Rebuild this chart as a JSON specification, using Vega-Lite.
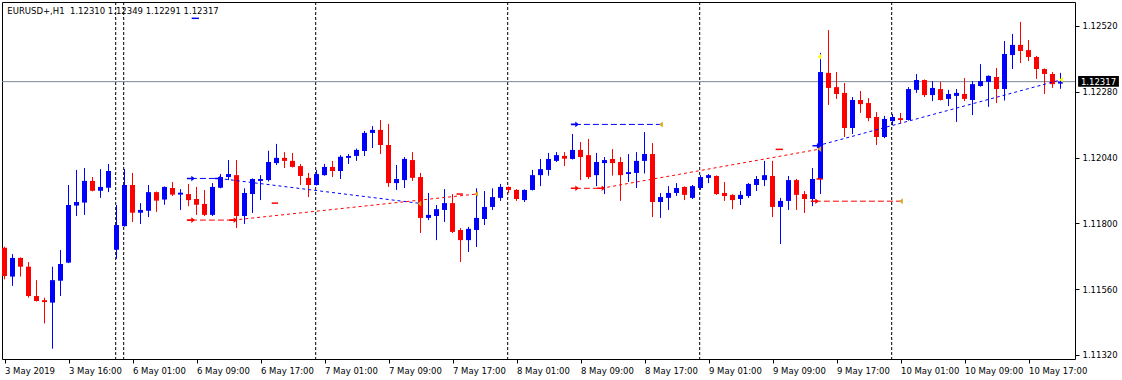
{
  "$schema": "https://vega.github.io/schema/vega-lite/v6.json",
  "width": 1073,
  "height": 357,
  "autosize": {"type": "none"},
  "padding": {"left": 2, "top": 2, "right": 47, "bottom": 21},
  "background": "white",
  "config": {
    "view": {"stroke": "#000000", "strokeWidth": 1},
    "axis": {"domain": false, "grid": false, "labelFont": "DejaVu Sans", "labelFontSize": 8.5, "labelColor": "#000000", "tickColor": "#000000", "tickSize": 4, "title": null}
  },
  "datasets": {
    "bars": [
      {"i":0,"o":1.11711,"h":1.11715,"l":1.11596,"c":1.11608},
      {"i":1,"o":1.11606,"h":1.11688,"l":1.11572,"c":1.11674},
      {"i":2,"o":1.11674,"h":1.11676,"l":1.11606,"c":1.11642},
      {"i":3,"o":1.11642,"h":1.11659,"l":1.11529,"c":1.11535},
      {"i":4,"o":1.11535,"h":1.11593,"l":1.11515,"c":1.11517},
      {"i":5,"o":1.11520,"h":1.11529,"l":1.11435,"c":1.11513},
      {"i":6,"o":1.11511,"h":1.11642,"l":1.11343,"c":1.11593},
      {"i":7,"o":1.11591,"h":1.11703,"l":1.11535,"c":1.11652},
      {"i":8,"o":1.11657,"h":1.11940,"l":1.11655,"c":1.11867},
      {"i":9,"o":1.11865,"h":1.11995,"l":1.11827,"c":1.11878},
      {"i":10,"o":1.11876,"h":1.12002,"l":1.11831,"c":1.11955},
      {"i":11,"o":1.11955,"h":1.11969,"l":1.11917,"c":1.11919},
      {"i":12,"o":1.11919,"h":1.11998,"l":1.11893,"c":1.11933},
      {"i":13,"o":1.11930,"h":1.12017,"l":1.11914,"c":1.11991},
      {"i":14,"o":1.11704,"h":1.11867,"l":1.11671,"c":1.11794},
      {"i":15,"o":1.11790,"h":1.11998,"l":1.11788,"c":1.11940},
      {"i":16,"o":1.11940,"h":1.11984,"l":1.11805,"c":1.11839},
      {"i":17,"o":1.11839,"h":1.11874,"l":1.11798,"c":1.11849},
      {"i":18,"o":1.11846,"h":1.11940,"l":1.11823,"c":1.11914},
      {"i":19,"o":1.11914,"h":1.11916,"l":1.11842,"c":1.11883},
      {"i":20,"o":1.11887,"h":1.11935,"l":1.11868,"c":1.11933},
      {"i":21,"o":1.11929,"h":1.11951,"l":1.11900,"c":1.11905},
      {"i":22,"o":1.11905,"h":1.11925,"l":1.11849,"c":1.11912},
      {"i":23,"o":1.11907,"h":1.11944,"l":1.11863,"c":1.11885},
      {"i":24,"o":1.11889,"h":1.11933,"l":1.11831,"c":1.11868},
      {"i":25,"o":1.11871,"h":1.11922,"l":1.11827,"c":1.11831},
      {"i":26,"o":1.11831,"h":1.11947,"l":1.11827,"c":1.11933},
      {"i":27,"o":1.11930,"h":1.11980,"l":1.11928,"c":1.11969},
      {"i":28,"o":1.11969,"h":1.12031,"l":1.11958,"c":1.11980},
      {"i":29,"o":1.11976,"h":1.12031,"l":1.11783,"c":1.11827},
      {"i":30,"o":1.11827,"h":1.11928,"l":1.11798,"c":1.11911},
      {"i":31,"o":1.11907,"h":1.11964,"l":1.11838,"c":1.11962},
      {"i":32,"o":1.11955,"h":1.11976,"l":1.11885,"c":1.11962},
      {"i":33,"o":1.11958,"h":1.12065,"l":1.11953,"c":1.12024},
      {"i":34,"o":1.12020,"h":1.12090,"l":1.12013,"c":1.12039},
      {"i":35,"o":1.12039,"h":1.12060,"l":1.12002,"c":1.12028},
      {"i":36,"o":1.12028,"h":1.12057,"l":1.12004,"c":1.12006},
      {"i":37,"o":1.12009,"h":1.12017,"l":1.11940,"c":1.11973},
      {"i":38,"o":1.11966,"h":1.11984,"l":1.11896,"c":1.11940},
      {"i":39,"o":1.11940,"h":1.11995,"l":1.11938,"c":1.11980},
      {"i":40,"o":1.11976,"h":1.12017,"l":1.11974,"c":1.12006},
      {"i":41,"o":1.12006,"h":1.12028,"l":1.11969,"c":1.11991},
      {"i":42,"o":1.11991,"h":1.12049,"l":1.11962,"c":1.12043},
      {"i":43,"o":1.12039,"h":1.12053,"l":1.12017,"c":1.12046},
      {"i":44,"o":1.12046,"h":1.12073,"l":1.12028,"c":1.12068},
      {"i":45,"o":1.12064,"h":1.12137,"l":1.12046,"c":1.12130},
      {"i":46,"o":1.12130,"h":1.12155,"l":1.12075,"c":1.12141},
      {"i":47,"o":1.12141,"h":1.12177,"l":1.12053,"c":1.12086},
      {"i":48,"o":1.12086,"h":1.12163,"l":1.11933,"c":1.11947},
      {"i":49,"o":1.11947,"h":1.12013,"l":1.11922,"c":1.11962},
      {"i":50,"o":1.11958,"h":1.12042,"l":1.11929,"c":1.12035},
      {"i":51,"o":1.12031,"h":1.12060,"l":1.11955,"c":1.11966},
      {"i":52,"o":1.11969,"h":1.11984,"l":1.11765,"c":1.11820},
      {"i":53,"o":1.11820,"h":1.11911,"l":1.11812,"c":1.11831},
      {"i":54,"o":1.11827,"h":1.11867,"l":1.11739,"c":1.11852},
      {"i":55,"o":1.11849,"h":1.11925,"l":1.11805,"c":1.11874},
      {"i":56,"o":1.11874,"h":1.11907,"l":1.11765,"c":1.11769},
      {"i":57,"o":1.11776,"h":1.11783,"l":1.11659,"c":1.11739},
      {"i":58,"o":1.11739,"h":1.11787,"l":1.11696,"c":1.11780},
      {"i":59,"o":1.11776,"h":1.11928,"l":1.11714,"c":1.11820},
      {"i":60,"o":1.11816,"h":1.11918,"l":1.11794,"c":1.11860},
      {"i":61,"o":1.11860,"h":1.11928,"l":1.11849,"c":1.11896},
      {"i":62,"o":1.11893,"h":1.11944,"l":1.11882,"c":1.11933},
      {"i":63,"o":1.11933,"h":1.11935,"l":1.11911,"c":1.11922},
      {"i":64,"o":1.11922,"h":1.11925,"l":1.11882,"c":1.11889},
      {"i":65,"o":1.11885,"h":1.11924,"l":1.11878,"c":1.11922},
      {"i":66,"o":1.11922,"h":1.11995,"l":1.11920,"c":1.11976},
      {"i":67,"o":1.11976,"h":1.12035,"l":1.11936,"c":1.11998},
      {"i":68,"o":1.11995,"h":1.12057,"l":1.11974,"c":1.12035},
      {"i":69,"o":1.12028,"h":1.12060,"l":1.12024,"c":1.12049},
      {"i":70,"o":1.12046,"h":1.12060,"l":1.12009,"c":1.12036},
      {"i":71,"o":1.12035,"h":1.12126,"l":1.12033,"c":1.12068},
      {"i":72,"o":1.12068,"h":1.12097,"l":1.11958,"c":1.12042},
      {"i":73,"o":1.12049,"h":1.12108,"l":1.11962,"c":1.11969},
      {"i":74,"o":1.11976,"h":1.12057,"l":1.11936,"c":1.12024},
      {"i":75,"o":1.12020,"h":1.12042,"l":1.11907,"c":1.12031},
      {"i":76,"o":1.12035,"h":1.12071,"l":1.11974,"c":1.12020},
      {"i":77,"o":1.12024,"h":1.12042,"l":1.11882,"c":1.11976},
      {"i":78,"o":1.11980,"h":1.12053,"l":1.11951,"c":1.11987},
      {"i":79,"o":1.11984,"h":1.12060,"l":1.11929,"c":1.12028},
      {"i":80,"o":1.12028,"h":1.12133,"l":1.11982,"c":1.12053},
      {"i":81,"o":1.12053,"h":1.12093,"l":1.11823,"c":1.11878},
      {"i":82,"o":1.11878,"h":1.11911,"l":1.11820,"c":1.11896},
      {"i":83,"o":1.11893,"h":1.11936,"l":1.11849,"c":1.11911},
      {"i":84,"o":1.11911,"h":1.11947,"l":1.11900,"c":1.11929},
      {"i":85,"o":1.11933,"h":1.11935,"l":1.11885,"c":1.11904},
      {"i":86,"o":1.11893,"h":1.11940,"l":1.11889,"c":1.11936},
      {"i":87,"o":1.11929,"h":1.11976,"l":1.11922,"c":1.11969},
      {"i":88,"o":1.11966,"h":1.11980,"l":1.11947,"c":1.11976},
      {"i":89,"o":1.11973,"h":1.11975,"l":1.11904,"c":1.11907},
      {"i":90,"o":1.11911,"h":1.11951,"l":1.11882,"c":1.11900},
      {"i":91,"o":1.11904,"h":1.11906,"l":1.11852,"c":1.11885},
      {"i":92,"o":1.11889,"h":1.11918,"l":1.11867,"c":1.11904},
      {"i":93,"o":1.11900,"h":1.11947,"l":1.11893,"c":1.11944},
      {"i":94,"o":1.11940,"h":1.11973,"l":1.11918,"c":1.11962},
      {"i":95,"o":1.11958,"h":1.12028,"l":1.11936,"c":1.11976},
      {"i":96,"o":1.11973,"h":1.12028,"l":1.11823,"c":1.11860},
      {"i":97,"o":1.11860,"h":1.11893,"l":1.11725,"c":1.11882},
      {"i":98,"o":1.11882,"h":1.11973,"l":1.11849,"c":1.11958},
      {"i":99,"o":1.11958,"h":1.11962,"l":1.11849,"c":1.11904},
      {"i":100,"o":1.11907,"h":1.11918,"l":1.11838,"c":1.11889},
      {"i":101,"o":1.11889,"h":1.12002,"l":1.11863,"c":1.11962},
      {"i":102,"o":1.11962,"h":1.12422,"l":1.11907,"c":1.12352},
      {"i":103,"o":1.12349,"h":1.12505,"l":1.12232,"c":1.12294},
      {"i":104,"o":1.12297,"h":1.12352,"l":1.12254,"c":1.12272},
      {"i":105,"o":1.12276,"h":1.12312,"l":1.12115,"c":1.12148},
      {"i":106,"o":1.12148,"h":1.12261,"l":1.12126,"c":1.12250},
      {"i":107,"o":1.12250,"h":1.12283,"l":1.12203,"c":1.12235},
      {"i":108,"o":1.12239,"h":1.12257,"l":1.12173,"c":1.12184},
      {"i":109,"o":1.12188,"h":1.12206,"l":1.12086,"c":1.12115},
      {"i":110,"o":1.12115,"h":1.12192,"l":1.12111,"c":1.12181},
      {"i":111,"o":1.12173,"h":1.12199,"l":1.12159,"c":1.12188},
      {"i":112,"o":1.12184,"h":1.12203,"l":1.12166,"c":1.12177},
      {"i":113,"o":1.12177,"h":1.12297,"l":1.12175,"c":1.12290},
      {"i":114,"o":1.12287,"h":1.12345,"l":1.12276,"c":1.12323},
      {"i":115,"o":1.12323,"h":1.12325,"l":1.12261,"c":1.12268},
      {"i":116,"o":1.12268,"h":1.12319,"l":1.12246,"c":1.12294},
      {"i":117,"o":1.12290,"h":1.12316,"l":1.12248,"c":1.12250},
      {"i":118,"o":1.12254,"h":1.12287,"l":1.12228,"c":1.12272},
      {"i":119,"o":1.12265,"h":1.12290,"l":1.12170,"c":1.12276},
      {"i":120,"o":1.12272,"h":1.12330,"l":1.12246,"c":1.12254},
      {"i":121,"o":1.12250,"h":1.12319,"l":1.12195,"c":1.12308},
      {"i":122,"o":1.12301,"h":1.12381,"l":1.12299,"c":1.12319},
      {"i":123,"o":1.12316,"h":1.12340,"l":1.12225,"c":1.12338},
      {"i":124,"o":1.12334,"h":1.12367,"l":1.12239,"c":1.12290},
      {"i":125,"o":1.12290,"h":1.12465,"l":1.12248,"c":1.12418},
      {"i":126,"o":1.12414,"h":1.12491,"l":1.12363,"c":1.12451},
      {"i":127,"o":1.12451,"h":1.12535,"l":1.12385,"c":1.12429},
      {"i":128,"o":1.12432,"h":1.12469,"l":1.12392,"c":1.12407},
      {"i":129,"o":1.12407,"h":1.12411,"l":1.12327,"c":1.12363},
      {"i":130,"o":1.12363,"h":1.12365,"l":1.12272,"c":1.12345},
      {"i":131,"o":1.12345,"h":1.12352,"l":1.12294,"c":1.12308},
      {"i":132,"o":1.12310,"h":1.12349,"l":1.12291,"c":1.12317}
    ],
    "seps": [{"s":13.9},{"s":14.9},{"s":38.9},{"s":62.9},{"s":86.9},{"s":110.9}],
    "bid": [{"bid":1.12317,"label":"1.12317"}],
    "header": [{"text":"EURUSD+,H1\u00a0 1.12310 1.12349 1.12291 1.12317"}],
    "segs": [
      {"kind":"buy","i1":23.3,"p1":1.11964,"i2":26.8,"p2":1.11964},
      {"kind":"sell","i1":23.3,"p1":1.11812,"i2":28.6,"p2":1.11812},
      {"kind":"buy","i1":71.3,"p1":1.12161,"i2":82.1,"p2":1.12161},
      {"kind":"sell","i1":71.3,"p1":1.11928,"i2":74.6,"p2":1.11928},
      {"kind":"sell","i1":101.3,"p1":1.11881,"i2":112.1,"p2":1.11881}
    ],
    "links": [
      {"kind":"buy","i1":26.8,"p1":1.11964,"i2":51.9,"p2":1.11873},
      {"kind":"sell","i1":28.6,"p1":1.11812,"i2":59.0,"p2":1.11907},
      {"kind":"sell","i1":74.6,"p1":1.11928,"i2":101.9,"p2":1.12071},
      {"kind":"buy","i1":101.6,"p1":1.12083,"i2":132.1,"p2":1.12324}
    ],
    "levels": [
      {"kind":"sell","i1":33.4,"i2":34.2,"p":1.11874},
      {"kind":"sell","i1":56.5,"i2":57.3,"p":1.11907},
      {"kind":"sell","i1":96.4,"i2":97.3,"p":1.12070},
      {"kind":"sell","i1":101.5,"i2":102.3,"p":1.11962},
      {"kind":"buy","i1":23.4,"i2":24.3,"p":1.12548}
    ],
    "opens": [
      {"kind":"buy","i":23.3,"p":1.11964},
      {"kind":"buy","i":26.8,"p":1.11964},
      {"kind":"buy","i":71.3,"p":1.12161},
      {"kind":"buy","i":101.5,"p":1.12083},
      {"kind":"sell","i":23.3,"p":1.11812},
      {"kind":"sell","i":28.6,"p":1.11812},
      {"kind":"sell","i":71.3,"p":1.11928},
      {"kind":"sell","i":74.6,"p":1.11928},
      {"kind":"sell","i":101.3,"p":1.11881}
    ],
    "closes": [
      {"kind":"close","i":51.9,"p":1.11873},
      {"kind":"close","i":59.0,"p":1.11907},
      {"kind":"close","i":82.1,"p":1.12161},
      {"kind":"close","i":101.9,"p":1.12071},
      {"kind":"close","i":112.1,"p":1.11881},
      {"kind":"tp","i":101.9,"p":1.12408},
      {"kind":"tp","i":132.1,"p":1.12324}
    ]
  },
  "layer": [
    {
      "data": {"name": "seps"},
      "mark": {"type": "rule", "color": "#000000", "strokeWidth": 1, "strokeDash": [3, 2]},
      "encoding": {
        "x": {"field": "s", "type": "quantitative", "title": null,
          "scale": {"domain": [-0.3125, 133.8125], "nice": false, "zero": false, "padding": 0},
          "axis": {"values": [0,8,16,24,32,40,48,56,64,72,80,88,96,104,112,120,128], "labelAlign": "left", "labelPadding": 3, "labelOverlap": false, "labelBound": false, "labelFlush": false,
            "labelExpr": "['3 May 2019','3 May 16:00','6 May 01:00','6 May 09:00','6 May 17:00','7 May 01:00','7 May 09:00','7 May 17:00','8 May 01:00','8 May 09:00','8 May 17:00','9 May 01:00','9 May 09:00','9 May 17:00','10 May 01:00','10 May 09:00','10 May 17:00'][round(datum.value/8)]"}}
      }
    },
    {
      "data": {"name": "bid"},
      "mark": {"type": "rule", "color": "#778899", "strokeWidth": 1},
      "encoding": {
        "y": {"field": "bid", "type": "quantitative", "title": null,
          "scale": {"domain": [1.113054, 1.126075], "nice": false, "zero": false, "padding": 0},
          "axis": {"orient": "right", "values": [1.1132,1.1144,1.1156,1.1168,1.118,1.1192,1.1204,1.1216,1.1228,1.124,1.1252], "format": ".5f", "labelPadding": 3, "labelOverlap": false, "labelBound": false, "labelFlush": false}}
      }
    },
    {
      "data": {"name": "bars"},
      "mark": {"type": "rule", "strokeWidth": 1},
      "encoding": {
        "x": {"field": "i", "type": "quantitative", "title": null},
        "y": {"field": "l", "type": "quantitative", "title": null},
        "y2": {"field": "h"},
        "color": {"condition": {"test": "datum.c >= datum.o", "value": "#0000ff"}, "value": "#ff0000"}
      }
    },
    {
      "data": {"name": "bars"},
      "mark": {"type": "bar", "size": 5},
      "encoding": {
        "x": {"field": "i", "type": "quantitative", "title": null},
        "y": {"field": "o", "type": "quantitative", "title": null},
        "y2": {"field": "c"},
        "color": {"condition": {"test": "datum.c >= datum.o", "value": "#0000ff"}, "value": "#ff0000"}
      }
    },
    {
      "data": {"name": "segs"},
      "mark": {"type": "rule", "strokeWidth": 1, "strokeDash": [6, 3]},
      "encoding": {
        "x": {"field": "i1", "type": "quantitative", "title": null},
        "x2": {"field": "i2"},
        "y": {"field": "p1", "type": "quantitative", "title": null},
        "y2": {"field": "p2"},
        "color": {"condition": {"test": "datum.kind == 'buy'", "value": "#0000ff"}, "value": "#ff0000"}
      }
    },
    {
      "data": {"name": "links"},
      "mark": {"type": "rule", "strokeWidth": 1, "strokeDash": [3, 3]},
      "encoding": {
        "x": {"field": "i1", "type": "quantitative", "title": null},
        "x2": {"field": "i2"},
        "y": {"field": "p1", "type": "quantitative", "title": null},
        "y2": {"field": "p2"},
        "color": {"condition": {"test": "datum.kind == 'buy'", "value": "#0000ff"}, "value": "#ff0000"}
      }
    },
    {
      "data": {"name": "levels"},
      "mark": {"type": "rule", "strokeWidth": 1.5},
      "encoding": {
        "x": {"field": "i1", "type": "quantitative", "title": null},
        "x2": {"field": "i2"},
        "y": {"field": "p", "type": "quantitative", "title": null},
        "color": {"condition": {"test": "datum.kind == 'buy'", "value": "#0000ff"}, "value": "#ff0000"}
      }
    },
    {
      "data": {"name": "opens"},
      "mark": {"type": "point", "filled": true, "size": 64, "opacity": 1, "strokeWidth": 0,
        "shape": "M-1,-0.2L0.1,-0.2L0.1,-0.7L1,0L0.1,0.7L0.1,0.2L-1,0.2Z"},
      "encoding": {
        "x": {"field": "i", "type": "quantitative", "title": null},
        "y": {"field": "p", "type": "quantitative", "title": null},
        "color": {"condition": {"test": "datum.kind == 'buy'", "value": "#0000ff"}, "value": "#ff0000"}
      }
    },
    {
      "data": {"name": "closes"},
      "mark": {"type": "point", "filled": true, "size": 36, "opacity": 1, "strokeWidth": 0,
        "shape": "M-0.7,0L0.5,-1L0.5,1Z"},
      "encoding": {
        "x": {"field": "i", "type": "quantitative", "title": null},
        "y": {"field": "p", "type": "quantitative", "title": null},
        "color": {"condition": {"test": "datum.kind == 'tp'", "value": "#ffff00"}, "value": "#daa520"}
      }
    },
    {
      "data": {"name": "bid"},
      "mark": {"type": "rect", "color": "#000000"},
      "encoding": {
        "x": {"datum": 134.2, "type": "quantitative"},
        "x2": {"datum": 139.3},
        "y": {"datum": 1.12338, "type": "quantitative"},
        "y2": {"datum": 1.12298}
      }
    },
    {
      "data": {"name": "bid"},
      "mark": {"type": "text", "align": "left", "baseline": "middle", "color": "#ffffff", "font": "DejaVu Sans", "fontSize": 8.5},
      "encoding": {
        "x": {"datum": 134.55, "type": "quantitative"},
        "y": {"field": "bid", "type": "quantitative", "title": null},
        "text": {"field": "label"}
      }
    },
    {
      "data": {"name": "header"},
      "mark": {"type": "text", "align": "left", "baseline": "alphabetic", "color": "#000000", "font": "DejaVu Sans", "fontSize": 8.5},
      "encoding": {
        "x": {"datum": 0.35, "type": "quantitative"},
        "y": {"datum": 1.12564, "type": "quantitative"},
        "text": {"field": "text"}
      }
    }
  ]
}
